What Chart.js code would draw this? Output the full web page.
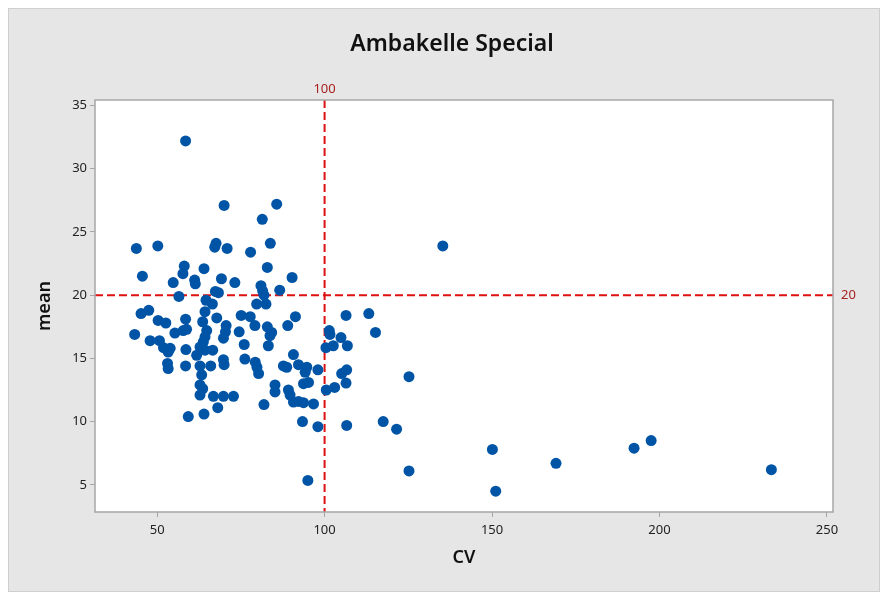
<!DOCTYPE html>
<html>
<head>
<meta charset="utf-8">
<script src="https://cdn.jsdelivr.net/npm/chart.js@4.4.1/dist/chart.umd.min.js"></script>
<style>
  html, body { margin: 0; padding: 0; background: #ffffff; overflow: hidden; }
  #frame {
    position: absolute; left: 8px; top: 8px; width: 872px; height: 584px;
    background: #e6e6e6; border: 1px solid #cfcfcf; box-sizing: border-box;
  }
  #wrap { position: absolute; left: 0; top: 0; width: 885px; height: 592px; }
</style>
</head>
<body>
<div id="frame"></div>
<div id="wrap"><canvas id="chart" width="885" height="592"></canvas></div>
<script>
// Data
const cvValues = [
  58.5, 70.0, 85.7, 81.4, 43.8, 50.2, 67.6, 67.2, 70.9, 77.9, 83.8, 135.3,
  58.1, 57.7, 64.0, 82.9, 45.6, 54.8, 61.2, 61.4, 69.2, 73.2, 90.3, 81.0,
  81.5, 81.9, 86.6, 56.5, 67.4, 68.3, 82.5, 79.7, 64.6, 66.5, 64.3, 63.6,
  64.8, 64.3, 63.8, 62.8, 61.8, 64.3, 66.6, 45.2, 47.5, 91.3, 75.1, 77.8,
  58.5, 50.3, 52.6, 67.8, 106.4, 113.2, 58.8, 57.8, 55.3, 43.3, 70.6, 70.4,
  74.5, 79.2, 82.9, 84.2, 89.0, 101.4, 101.6, 104.9, 106.8, 100.4, 102.6, 115.2,
  83.7, 83.2, 76.0, 47.9, 50.7, 51.9, 53.9, 53.3, 58.6, 53.1, 53.3, 58.5,
  62.8, 63.3, 62.8, 63.6, 62.8, 66.0, 66.8, 69.8, 72.8, 68.1, 59.3, 64.0,
  69.8, 70.0, 76.2, 79.3, 79.8, 80.3, 90.7, 87.7, 88.7, 92.2, 94.7, 94.2,
  98.0, 85.2, 85.2, 89.2, 89.7, 93.7, 95.2, 90.7, 92.2, 93.7, 96.7, 81.9,
  93.4, 98.0, 100.5, 103.0, 105.1, 106.6, 106.4, 106.6, 125.2, 117.5, 121.5, 125.2,
  95.0, 150.1, 151.1, 169.1, 192.4, 197.5, 233.4, 69.8
];
const meanValues = [
  32.2, 27.1, 27.2, 26.0, 23.7, 23.9, 24.1, 23.8, 23.7, 23.4, 24.1, 23.9,
  22.3, 21.7, 22.1, 22.2, 21.5, 21.0, 21.2, 20.9, 21.3, 21.0, 21.4, 20.75,
  20.35, 20.0, 20.4, 19.9, 20.3, 20.2, 19.3, 19.3, 19.6, 19.3, 18.7, 17.9,
  17.2, 16.7, 16.3, 15.9, 15.25, 15.65, 15.65, 18.55, 18.8, 18.3, 18.4, 18.3,
  18.1, 18.0, 17.8, 18.2, 18.4, 18.55, 17.3, 17.2, 17.0, 16.9, 17.6, 17.1,
  17.1, 17.6, 17.5, 17.05, 17.6, 17.2, 16.9, 16.65, 16.0, 15.85, 16.0, 17.05,
  16.8, 16.0, 16.1, 16.4, 16.4, 15.85, 15.8, 15.5, 15.7, 14.6, 14.2, 14.4,
  14.4, 13.7, 12.9, 12.6, 12.1, 14.4, 12.0, 12.0, 12.0, 11.1, 10.4, 10.6,
  14.9, 14.5, 14.95, 14.7, 14.3, 13.8, 15.3, 14.4, 14.3, 14.5, 14.3, 13.9,
  14.1, 12.9, 12.35, 12.5, 12.1, 13.0, 13.1, 11.55, 11.6, 11.5, 11.4, 11.35,
  10.0, 9.6, 12.5, 12.7, 13.8, 14.1, 13.05, 9.7, 13.55, 10.0, 9.4, 6.1,
  5.35, 7.8, 4.5, 6.7, 7.9, 8.5, 6.2, 16.6
];

const xTicks = [50, 100, 150, 200, 250];
const yTicks = [5, 10, 15, 20, 25, 30, 35];

// Reference lines
const refX = 100;
const refY = 20;

const FONT = "'Noto Sans', 'Open Sans', sans-serif";
const REF_COLOR = '#dd1111';
const REF_LABEL_COLOR = '#a82020';

// Plot background, border, reference lines and title
const plotDecor = {
  id: 'plotDecor',
  beforeDraw(chart) {
    const { ctx, chartArea: a } = chart;
    ctx.save();
    ctx.fillStyle = '#ffffff';
    ctx.fillRect(a.left, a.top, a.right - a.left, a.bottom - a.top);
    ctx.restore();
  },
  beforeDatasetsDraw(chart) {
    const { ctx, chartArea: a, scales } = chart;
    const px = scales.x.getPixelForValue(refX);
    const py = scales.y.getPixelForValue(refY);
    ctx.save();
    ctx.strokeStyle = REF_COLOR;
    ctx.lineWidth = 2;
    ctx.setLineDash([8, 4]);
    ctx.beginPath();
    ctx.moveTo(px, a.top);
    ctx.lineTo(px, a.bottom);
    ctx.moveTo(a.left, py);
    ctx.lineTo(a.right, py);
    ctx.stroke();
    ctx.restore();
  },
  afterDraw(chart) {
    const { ctx, chartArea: a, scales } = chart;
    const px = scales.x.getPixelForValue(refX);
    const py = scales.y.getPixelForValue(refY);
    ctx.save();
    ctx.strokeStyle = '#a6a6a6';
    ctx.lineWidth = 1.5;
    ctx.strokeRect(a.left, a.top, a.right - a.left, a.bottom - a.top);

    ctx.fillStyle = REF_LABEL_COLOR;
    ctx.font = '13px ' + FONT;
    ctx.textAlign = 'center';
    ctx.textBaseline = 'bottom';
    ctx.fillText(String(refX), px, a.top - 4);
    ctx.textAlign = 'left';
    ctx.textBaseline = 'middle';
    ctx.fillText(String(refY), a.right + 8, py);

    ctx.fillStyle = '#111111';
    ctx.font = '600 23px ' + FONT;
    ctx.textAlign = 'center';
    ctx.textBaseline = 'middle';
    ctx.fillText('Ambakelle Special', 452, 44);
    ctx.restore();
  }
};

const points = cvValues.map((v, i) => ({ x: v, y: meanValues[i] }));

new Chart(document.getElementById('chart'), {
  type: 'scatter',
  data: {
    datasets: [{
      label: 'mean vs CV',
      data: points,
      backgroundColor: '#0054a6',
      borderColor: '#0054a6',
      borderWidth: 0,
      pointRadius: 5.5,
      pointHoverRadius: 5.5
    }]
  },
  options: {
    responsive: false,
    animation: false,
    layout: { padding: { top: 100, right: 52, bottom: 15, left: 20 } },
    plugins: {
      legend: { display: false },
      tooltip: { enabled: false }
    },
    scales: {
      x: {
        type: 'linear',
        min: 31.45,
        max: 251.8,
        afterBuildTicks: s => { s.ticks = xTicks.map(v => ({ value: v })); },
        afterFit: s => { s.height = 65; },
        grid: { drawOnChartArea: false, drawTicks: true, tickLength: 5, color: '#a6a6a6' },
        border: { display: false },
        ticks: { color: '#222', font: { family: FONT, size: 13 }, padding: 5, maxRotation: 0 },
        title: { display: true, text: 'CV', color: '#111', font: { family: FONT, size: 18, weight: '600' }, padding: { top: 0, bottom: 8 } }
      },
      y: {
        type: 'linear',
        min: 2.85,
        max: 35.44,
        afterBuildTicks: s => { s.ticks = yTicks.map(v => ({ value: v })); },
        afterFit: s => { s.width = 75; },
        grid: { drawOnChartArea: false, drawTicks: true, tickLength: 5, color: '#a6a6a6' },
        border: { display: false },
        ticks: { color: '#222', font: { family: FONT, size: 13 }, padding: 3 },
        title: { display: true, text: 'mean', color: '#111', font: { family: FONT, size: 18, weight: '600' }, padding: { top: 14, bottom: 0 } }
      }
    }
  },
  plugins: [plotDecor]
});
</script>
</body>
</html>
